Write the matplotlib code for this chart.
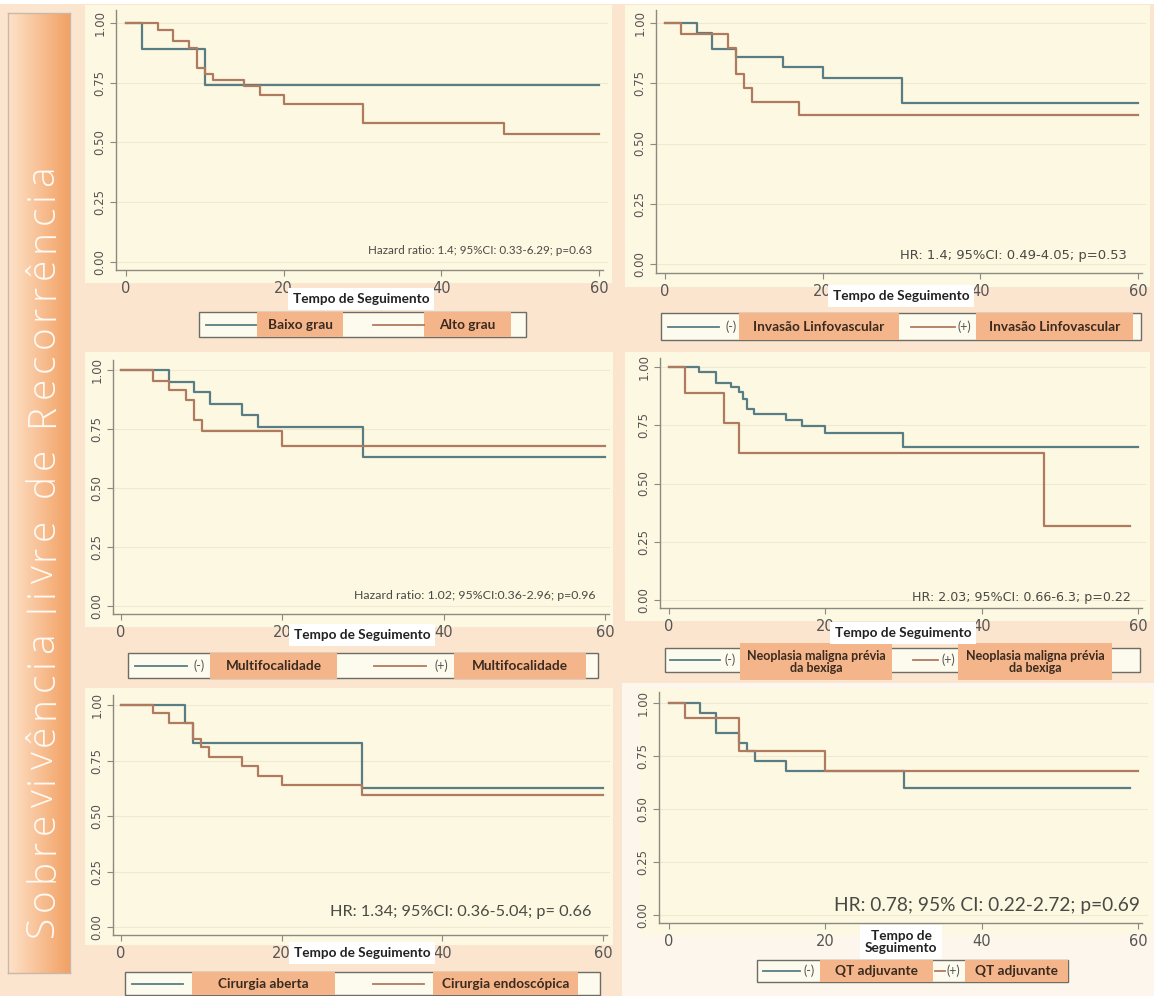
import numpy as np
import matplotlib.pyplot as plt
from matplotlib.patches import Rectangle
from matplotlib.colors import LinearSegmentedColormap
from matplotlib.font_manager import FontProperties

W, H = 1154, 996
COR_NEG = "#587d84"
COR_POS = "#b07a5f"
LARANJA = "#f4b58a"
AMARELO = "#fdf8e2"
PESSEGO = "#fbe5cf"

# curvas de Kaplan-Meier (tempo em meses, sobrevivência livre de recorrência)
grau_baixo_t = [0, 2, 10, 60]
grau_baixo_s = [1.0, 0.89, 0.74, 0.74]
grau_alto_t = [0, 4, 6, 8, 9, 10, 11, 15, 17, 20, 30, 48, 60]
grau_alto_s = [1.0, 0.97, 0.923, 0.895, 0.812, 0.786, 0.76, 0.737, 0.70, 0.663, 0.58, 0.534, 0.534]

ilv_neg_t = [0, 4, 6, 9, 15, 20, 30, 60]
ilv_neg_s = [1.0, 0.958, 0.892, 0.858, 0.817, 0.772, 0.668, 0.668]
ilv_pos_t = [0, 2, 8, 9, 10, 11, 17, 60]
ilv_pos_s = [1.0, 0.956, 0.896, 0.79, 0.73, 0.671, 0.617, 0.617]

multi_neg_t = [0, 6, 9, 11, 15, 17, 30, 60]
multi_neg_s = [1.0, 0.95, 0.905, 0.856, 0.809, 0.757, 0.632, 0.632]
multi_pos_t = [0, 4, 6, 8, 9, 10, 20, 60]
multi_pos_s = [1.0, 0.955, 0.915, 0.873, 0.788, 0.741, 0.679, 0.679]

neo_neg_t = [0, 3.8, 6, 7.9, 8.9, 9.5, 10, 10.9, 15, 17, 20, 30, 60]
neo_neg_s = [1.0, 0.977, 0.933, 0.913, 0.891, 0.861, 0.82, 0.797, 0.773, 0.748, 0.718, 0.657, 0.657]
neo_pos_t = [0, 2, 7, 9, 48, 59]
neo_pos_s = [1.0, 0.89, 0.761, 0.632, 0.317, 0.317]

aberta_t = [0, 8, 9, 30, 60]
aberta_s = [1.0, 0.92, 0.83, 0.624, 0.624]
endo_t = [0, 4, 6, 9, 10, 11, 15, 17, 20, 30, 60]
endo_s = [1.0, 0.962, 0.92, 0.845, 0.809, 0.764, 0.726, 0.68, 0.639, 0.594, 0.594]

qt_neg_t = [0, 4, 6, 9, 10, 11, 15, 30, 59]
qt_neg_s = [1.0, 0.951, 0.86, 0.813, 0.774, 0.727, 0.679, 0.597, 0.597]
qt_pos_t = [0, 2, 9, 20, 60]
qt_pos_s = [1.0, 0.931, 0.774, 0.679, 0.679]

x_ticks = [0, 20, 40, 60]
y_ticks = [0.0, 0.25, 0.5, 0.75, 1.0]
y_labels = ["0.00", "0.25", "0.50", "0.75", "1.00"]

titulo_txt = "Sobrevivência livre de Recorrência"

textos_hr = [
    "Hazard ratio: 1.4; 95%CI: 0.33-6.29; p=0.63",
    "HR: 1.4; 95%CI: 0.49-4.05; p=0.53",
    "Hazard ratio: 1.02; 95%CI:0.36-2.96; p=0.96",
    "HR: 2.03; 95%CI: 0.66-6.3; p=0.22",
    "HR: 1.34; 95%CI: 0.36-5.04; p= 0.66",
    "HR: 0.78; 95% CI: 0.22-2.72; p=0.69",
]

legendas = [
    ["Baixo grau", "Alto grau"],
    ["Invasão Linfovascular", "Invasão Linfovascular"],
    ["Multifocalidade", "Multifocalidade"],
    ["Neoplasia maligna prévia\nda bexiga", "Neoplasia maligna prévia\nda bexiga"],
    ["Cirurgia aberta", "Cirurgia endoscópica"],
    ["QT adjuvante", "QT adjuvante"],
]

curvas = [
    (grau_baixo_t, grau_baixo_s, grau_alto_t, grau_alto_s),
    (ilv_neg_t, ilv_neg_s, ilv_pos_t, ilv_pos_s),
    (multi_neg_t, multi_neg_s, multi_pos_t, multi_pos_s),
    (neo_neg_t, neo_neg_s, neo_pos_t, neo_pos_s),
    (aberta_t, aberta_s, endo_t, endo_s),
    (qt_neg_t, qt_neg_s, qt_pos_t, qt_pos_s),
]

# layout em pixels: eixo y, x=0, x=60, direita, topo, y=1, y=0, eixo x
layout = [
    (116, 126, 599, 608, 10, 23, 262, 270),
    (656, 665, 1138, 1146, 10, 23, 264, 273),
    (113, 121, 605, 610, 360, 370, 606, 614),
    (660, 669, 1138, 1146, 358, 367, 600, 608),
    (113, 121, 603, 610, 695, 705, 927, 935),
    (659, 669, 1138, 1148, 692, 703, 915, 923),
]
fundos = [(85, 5, 612, 283), (625, 5, 1150, 287), (85, 352, 613, 627),
          (625, 352, 1150, 621), (85, 688, 613, 945), (640, 688, 1152, 935)]
hr_pos = [(592, 250, "Lato"), (1127, 255, "DejaVu Sans"), (596, 595, "Lato"),
          (1131, 597, "DejaVu Sans"), (592, 912, "Lato"), (1140, 905, "Lato")]
hr_larg = [224, 228, 244, 218, 261, 306]
tempo_pos = [(361, 299), (901, 296), (362, 635), (903, 633), (362, 953), (901, 942)]
# caixa da legenda e itens: linha x0, x1, sinal x, rótulo x0, x1
leg_caixa = [(199, 312, 526, 337), (661, 313, 1141, 340), (128, 653, 598, 678),
             (665, 648, 1140, 672), (125, 972, 600, 995), (757, 960, 1068, 982)]
leg_rot_y = [(312, 337), (313, 340), (653, 679), (643, 680), (972, 995), (960, 982)]
leg_fonte = [9.8, 9.8, 9.8, 9.0, 9.8, 9.8]
leg_itens = [
    [(206, 256, None, 257, 343), (373, 424, None, 424, 511)],
    [(668, 719, 731, 739, 899), (911, 955, 964, 976, 1133)],
    [(135, 187, 199, 210, 337), (374, 426, 441, 454, 586)],
    [(670, 720, 730, 740, 892), (913, 938, 948, 958, 1112)],
    [(132, 183, None, 192, 335), (373, 424, None, 433, 578)],
    [(763, 800, 809, 820, 933), (935, 945, 953, 965, 1068)],
]

fig = plt.figure(figsize=(W / 100, H / 100), dpi=100)
fig.patch.set_facecolor(PESSEGO)

bg = fig.add_axes([0, 0, 1, 1], zorder=0)
bg.set_xlim(0, W)
bg.set_ylim(H, 0)
bg.axis("off")
bg.add_patch(Rectangle((0, 0), W, 4, color="white", lw=0))
bg.add_patch(Rectangle((622, 683), W - 622, H - 683, color="#fdf6ec", lw=0))
for (x0, y0, x1, y1) in fundos:
    bg.add_patch(Rectangle((x0, y0), x1 - x0, y1 - y0, color=AMARELO, lw=0))

# barra lateral com gradiente
barra = fig.add_axes([8 / W, 1 - 973 / H, 62 / W, 960 / H], zorder=2)
grad = np.linspace(0, 1, 64)[None, :]
cmap = LinearSegmentedColormap.from_list("barra", ["#fde2c9", "#f8c196", "#f2a164"])
barra.imshow(grad, aspect="auto", cmap=cmap, extent=[0, 1, 0, 1])
barra.set_xticks([])
barra.set_yticks([])
for s in barra.spines.values():
    s.set_color("#c9b8a8")
    s.set_linewidth(1)

ov = fig.add_axes([0, 0, 1, 1], zorder=5)
ov.set_xlim(0, W)
ov.set_ylim(H, 0)
ov.axis("off")
ov.patch.set_alpha(0)

renderer = fig.canvas.get_renderer()


def ajusta(t, alvo, vertical=False):
    bb = t.get_window_extent(renderer)
    atual = bb.height if vertical else bb.width
    t.set_fontsize(t.get_fontsize() * alvo / atual)


# título vertical com espaçamento entre letras
tam = 28
fp = FontProperties(family="Open Sans", weight="light", size=tam)
larg = []
for c in titulo_txt:
    if c == " ":
        larg.append(0.26 * tam * 100 / 72)
    else:
        larg.append(renderer.get_text_width_height_descent(c, fp, False)[0])
y_ini, y_fim = 937, 165
gap = ((y_ini - y_fim) - sum(larg)) / (len(titulo_txt) - 1)
y = y_ini
for c, w in zip(titulo_txt, larg):
    if c != " ":
        ov.text(43, y, c, rotation=90, ha="center", va="bottom", color="#fffaf4",
                fontproperties=fp)
    y -= w + gap

for i, (tn, sn, tp, sp) in enumerate(curvas):
    sx, x0, x60, right, top, y1, y0, sy = layout[i]
    ppu = (x60 - x0) / 60
    hpx = y0 - y1
    ax = fig.add_axes([sx / W, 1 - sy / H, (right - sx) / W, (sy - top) / H], zorder=3)
    ax.set_facecolor(AMARELO)
    ax.step(tn, sn, where="post", color=COR_NEG, lw=1.6)
    ax.step(tp, sp, where="post", color=COR_POS, lw=1.6)
    ax.set_xlim((sx - x0) / ppu, (right - x0) / ppu)
    ax.set_ylim((y0 - sy) / hpx, (y0 - top) / hpx)
    ax.set_xticks(x_ticks)
    ax.set_yticks(y_ticks)
    ax.set_yticklabels(y_labels, rotation=90, va="center")
    ax.grid(axis="y", color="#f0e9cf", lw=0.8)
    ax.set_axisbelow(True)
    for s in ["top", "right"]:
        ax.spines[s].set_visible(False)
    for s in ["left", "bottom"]:
        ax.spines[s].set_color("#8a8a80")
        ax.spines[s].set_linewidth(1.0)
    ax.spines["bottom"].set_bounds(ax.get_xlim()[0], 60.5)
    ax.tick_params(axis="x", colors="#8a8a80", labelcolor="#555", labelsize=10.5,
                   length=4, pad=4)
    ax.tick_params(axis="y", colors="#8a8a80", labelcolor="#555", labelsize=8.5,
                   length=4, pad=3)

    # texto do hazard ratio
    hx, hy, fam = hr_pos[i]
    t = ov.text(hx, hy, textos_hr[i], ha="right", va="center", color="#4a4a44",
                fontsize=8, family=fam)
    ajusta(t, hr_larg[i])

    # rótulo do eixo x
    tx, ty = tempo_pos[i]
    rot = "Tempo de\nSeguimento" if i == 5 else "Tempo de Seguimento"
    ov.text(tx, ty, rot, ha="center", va="center", fontsize=9.8, family="Lato",
            fontweight="bold", color="#222", linespacing=1.05,
            bbox=dict(boxstyle="square,pad=0.35", fc="white", ec="none"))

    # legenda
    bx0, by0, bx1, by1 = leg_caixa[i]
    ov.add_patch(Rectangle((bx0, by0), bx1 - bx0, by1 - by0, fc="#fdfaee",
                           ec="#6d6d66", lw=1.0))
    ry0, ry1 = leg_rot_y[i]
    ym = (by0 + by1) / 2
    for j, (lx0, lx1, sxp, rx0, rx1) in enumerate(leg_itens[i]):
        cor = COR_NEG if j == 0 else COR_POS
        ov.plot([lx0, lx1], [ym, ym], color=cor, lw=1.3)
        if sxp is not None:
            ov.text(sxp, ym, "(-)" if j == 0 else "(+)", ha="center", va="center",
                    fontsize=9, color="#555", family="Lato")
        ov.add_patch(Rectangle((rx0, ry0), rx1 - rx0, ry1 - ry0, fc=LARANJA, ec="none"))
        ov.text((rx0 + rx1) / 2, (ry0 + ry1) / 2, legendas[i][j], ha="center",
                va="center", fontsize=leg_fonte[i], family="Lato", fontweight="bold",
                color="#3b2a1f", linespacing=1.0)

fig.savefig("out.png", dpi=100, facecolor=fig.get_facecolor())
